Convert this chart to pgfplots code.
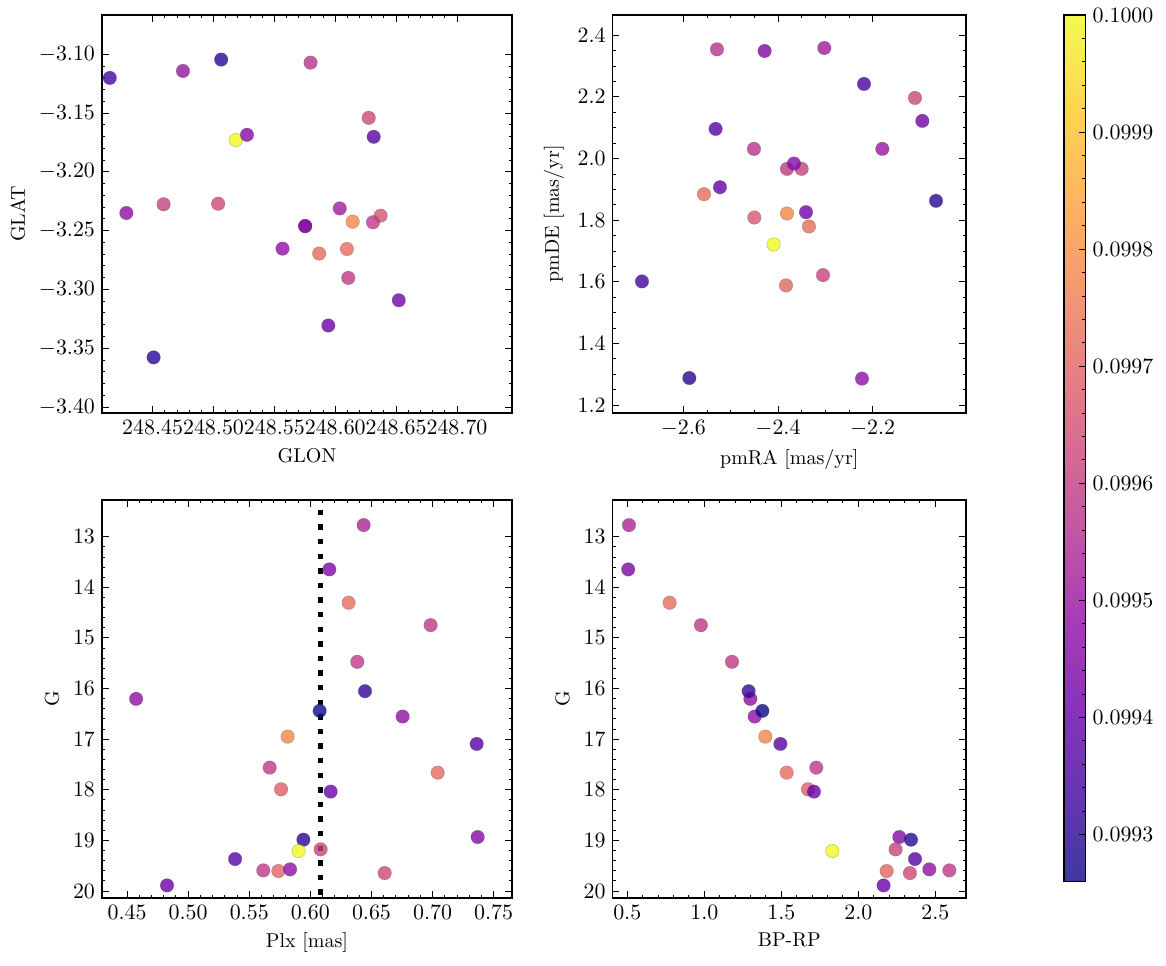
\documentclass[border=0pt]{standalone}
\usepackage{pgfplots}
\usepackage{pgfplotstable}
\pgfplotsset{compat=1.18}
\pgfplotsset{
 colormap={plasma}{rgb255=(13,8,135) rgb255=(65,4,157) rgb255=(106,0,168) rgb255=(143,13,164) rgb255=(177,42,144) rgb255=(204,71,120) rgb255=(225,100,98) rgb255=(242,132,75) rgb255=(252,166,54) rgb255=(252,206,37) rgb255=(240,249,33)},
 colormap={plasmalight}{rgb255=(61,57,159) rgb255=(103,54,177) rgb255=(136,51,185) rgb255=(165,61,182) rgb255=(193,85,166) rgb255=(214,108,147) rgb255=(231,131,129) rgb255=(245,157,111) rgb255=(253,184,94) rgb255=(253,216,81) rgb255=(243,250,77)},
 myax/.style={scale only axis, anchor=south west, height=199pt,
   colormap name=plasma, point meta min=0.09926, point meta max=0.1,
   tick align=inside, major tick length=3.4pt, minor tick length=1.7pt,
   every tick/.style={black, line width=0.45pt},
   axis line style={line width=0.65pt},
   tick label style={font=\fontsize{10.8}{13}\selectfont},
   label style={font=\fontsize{10}{12}\selectfont},
   scaled ticks=false},
 pts/.style={scatter, only marks, mark=*, mark size=3.4pt, point meta=explicit,
   scatter/use mapped color={draw=black!70, fill=mapped color},
   mark options={fill opacity=0.8, draw opacity=0.35, line width=0.25pt}},
}
\pgfplotstableread{
x y c
248.4148 -3.1201 0.099334
248.4749 -3.1142 0.099497
248.5063 -3.1045 0.099297
248.5797 -3.1071 0.099571
248.6275 -3.1541 0.09963
248.6316 -3.1702 0.099371
248.5183 -3.1730 0.1
248.5275 -3.1685 0.09946
248.4284 -3.2350 0.099482
248.4590 -3.2276 0.099608
248.5038 -3.2271 0.09963
248.6037 -3.2311 0.099519
248.6143 -3.2424 0.099778
248.6373 -3.2373 0.099667
248.6310 -3.2429 0.099593
248.5753 -3.2461 0.099371
248.5753 -3.2461 0.099482
248.5567 -3.2653 0.099482
248.5868 -3.2695 0.099719
248.6096 -3.2656 0.099726
248.6107 -3.2902 0.099593
248.6522 -3.3092 0.099423
248.5943 -3.3307 0.099408
248.4508 -3.3578 0.099297
}\glon
\pgfplotstableread{
x y c
-2.5289 2.3546 0.099571
-2.4282 2.3492 0.099445
-2.3021 2.3589 0.099519
-2.2183 2.2422 0.099349
-2.1106 2.1968 0.09963
-2.0951 2.1222 0.099423
-2.5317 2.0962 0.099371
-2.4507 2.0314 0.099571
-2.1796 2.0314 0.099497
-2.3810 1.9665 0.099593
-2.3500 1.9665 0.099608
-2.3662 1.9838 0.09946
-2.5225 1.9070 0.099393
-2.5563 1.8843 0.099726
-2.0662 1.8627 0.099297
-2.4500 1.8086 0.099667
-2.3810 1.8216 0.099778
-2.3408 1.8259 0.099423
-2.3345 1.7795 0.099719
-2.4092 1.7211 0.1
-2.6873 1.6011 0.099334
-2.3049 1.6216 0.099615
-2.3831 1.5881 0.099704
-2.5873 1.2876 0.099297
-2.2225 1.2854 0.099482
}\pm
\pgfplotstableread{
plx bprp G c
0.6436 0.511 12.770 0.099541
0.6155 0.506 13.646 0.099445
0.6313 0.775 14.305 0.099726
0.6984 0.978 14.747 0.099593
0.6384 1.180 15.472 0.099593
0.4574 1.299 16.204 0.099482
0.6447 1.288 16.052 0.099312
0.6755 1.327 16.553 0.099482
0.6076 1.377 16.441 0.09926
0.5814 1.396 16.949 0.099778
0.7361 1.494 17.094 0.099371
0.5667 1.727 17.562 0.099593
0.7042 1.535 17.661 0.099719
0.5760 1.673 17.990 0.099689
0.6166 1.712 18.036 0.099408
0.7369 2.266 18.933 0.09946
0.5943 2.342 18.986 0.099297
0.5904 1.831 19.210 0.1
0.6084 2.242 19.177 0.099615
0.5384 2.368 19.368 0.099371
0.5615 2.591 19.592 0.099593
0.5738 2.184 19.605 0.099704
0.5834 2.461 19.572 0.099482
0.6608 2.335 19.645 0.09963
0.4827 2.164 19.889 0.099408
}\stars
\begin{document}
\begin{tikzpicture}
\path[use as bounding box] (0,0) rectangle (583pt,482.5pt);
% top-left
\begin{axis}[myax, at={(51pt,276pt)}, width=205pt,
  xmin=248.4084, xmax=248.7452, ymin=-3.4051, ymax=-3.0666,
  xtick={248.45,248.50,248.55,248.60,248.65,248.70},
  ytick={-3.40,-3.35,-3.30,-3.25,-3.20,-3.15,-3.10},
  minor x tick num=4, minor y tick num=4,
  xticklabel style={/pgf/number format/.cd, fixed, fixed zerofill, precision=2},
  yticklabel style={/pgf/number format/.cd, fixed, fixed zerofill, precision=2},
  xlabel={GLON}, ylabel={GLAT}]
\addplot[pts] table[x=x, y=y, meta=c] {\glon};
\end{axis}
% top-right
\begin{axis}[myax, at={(306.3pt,276pt)}, width=176.7pt,
  xmin=-2.7493, xmax=-2.0028, ymin=1.174, ymax=2.466,
  xtick={-2.6,-2.4,-2.2}, ytick={1.2,1.4,1.6,1.8,2.0,2.2,2.4},
  minor x tick num=3, minor y tick num=3,
  xticklabel style={/pgf/number format/.cd, fixed, fixed zerofill, precision=1},
  yticklabel style={/pgf/number format/.cd, fixed, fixed zerofill, precision=1},
  xlabel={pmRA [mas/yr]}, ylabel={pmDE [mas/yr]},
  colorbar,
  colorbar style={colormap name=plasmalight, scale only axis,
    at={(parent axis.north east)}, anchor=north west, xshift=40.5pt,
    width=10.7pt, height=433.2pt,
    ytick={0.0993,0.0994,0.0995,0.0996,0.0997,0.0998,0.0999,0.1},
    minor y tick num=4, scaled y ticks=false,
    tick align=inside, major tick length=3.4pt, minor tick length=1.7pt,
    every tick/.style={black, line width=0.45pt},
    axis line style={line width=0.65pt},
    ytick pos=right, yticklabel pos=right,
    tick label style={font=\fontsize{10.8}{13}\selectfont},
    yticklabel style={/pgf/number format/.cd, fixed, fixed zerofill, precision=4}}]
\addplot[pts] table[x=x, y=y, meta=c] {\pm};
\end{axis}
% bottom-left
\begin{axis}[myax, at={(51pt,33.5pt)}, width=205pt, y dir=reverse,
  xmin=0.4295, xmax=0.765, ymin=12.275, ymax=20.138,
  xtick={0.45,0.50,0.55,0.60,0.65,0.70,0.75}, ytick={13,14,15,16,17,18,19,20},
  minor x tick num=4, minor y tick num=4,
  xticklabel style={/pgf/number format/.cd, fixed, fixed zerofill, precision=2},
  xlabel={Plx [mas]}, ylabel={G}]
\addplot[pts] table[x=plx, y=G, meta=c] {\stars};
\addplot[black, line width=2.7pt, dash pattern=on 2.7pt off 4.6pt] coordinates {(0.6082,12.47) (0.6082,20.138)};
\end{axis}
% bottom-right
\begin{axis}[myax, at={(306.3pt,33.5pt)}, width=176.7pt, y dir=reverse,
  xmin=0.4048, xmax=2.6991, ymin=12.275, ymax=20.138,
  xtick={0.5,1.0,1.5,2.0,2.5}, ytick={13,14,15,16,17,18,19,20},
  minor x tick num=4, minor y tick num=4,
  xticklabel style={/pgf/number format/.cd, fixed, fixed zerofill, precision=1},
  xlabel={BP-RP}, ylabel={G}]
\addplot[pts] table[x=bprp, y=G, meta=c] {\stars};
\end{axis}
\end{tikzpicture}
\end{document}
